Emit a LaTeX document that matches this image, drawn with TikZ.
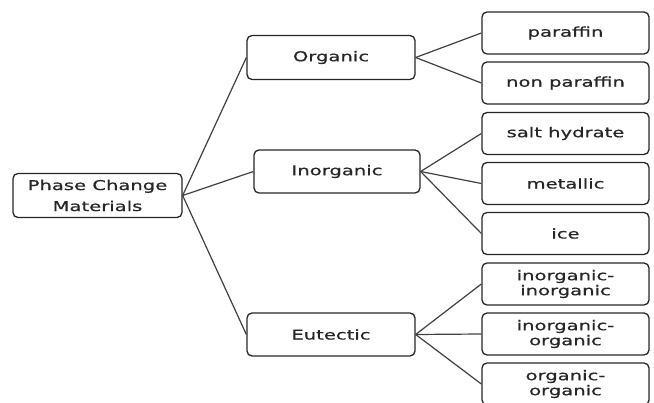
\documentclass[tikz,border=0pt]{standalone}
\usepackage{fontspec}
\setmainfont{DejaVu Sans}[FakeStretch=1.45,FakeBold=0.6]
\begin{document}
\begin{tikzpicture}[x=1pt,y=-1pt,
  box/.style={draw=black!85, line width=1.3pt, rounded corners=5pt, inner sep=0pt,
    align=center, text=black!85, font=\fontsize{13.5}{15}\selectfont},
  rbox/.style={box, minimum width=167pt, minimum height=42pt},
  mbox/.style={box, minimum width=168pt, minimum height=44pt},
  link/.style={draw=black!75, line width=1.2pt}]
\useasboundingbox (0,0) rectangle (654,403);
\clip (0,0) rectangle (654,403);
\node[box, minimum width=169pt, minimum height=44pt, font=\fontsize{13.5}{21}\selectfont] (root) at (97.5,195.5) {Phase Change\\Materials};
\node[mbox] (org) at (331,57.5) {Organic};
\node[mbox, minimum width=166pt, minimum height=43pt] (inorg) at (337,171.5) {Inorganic};
\node[mbox, minimum height=43pt] (eut) at (331,334.5) {Eutectic};
\node[rbox] (par) at (565.5,33) {paraffin};
\node[rbox] (npar) at (565.5,83) {non paraffin};
\node[rbox] (salt) at (565.5,133.5) {salt hydrate};
\node[rbox] (met) at (565.5,183.5) {metallic};
\node[rbox] (ice) at (565.5,233.5) {ice};
\node[rbox] (ii) at (565.5,284) {inorganic-\\inorganic};
\node[rbox] (io) at (565.5,334) {inorganic-\\organic};
\node[rbox] (oo) at (565.5,384) {organic-\\organic};
\draw[link] (root.east) -- (org.west);
\draw[link] (root.east) -- (inorg.west);
\draw[link] (root.east) -- (eut.west);
\draw[link] (org.east) -- (par.west);
\draw[link] (org.east) -- (npar.west);
\draw[link] (inorg.east) -- (salt.west);
\draw[link] (inorg.east) -- (met.west);
\draw[link] (inorg.east) -- (ice.west);
\draw[link] (eut.east) -- (ii.west);
\draw[link] (eut.east) -- (io.west);
\draw[link] (eut.east) -- (oo.west);
\end{tikzpicture}
\end{document}
